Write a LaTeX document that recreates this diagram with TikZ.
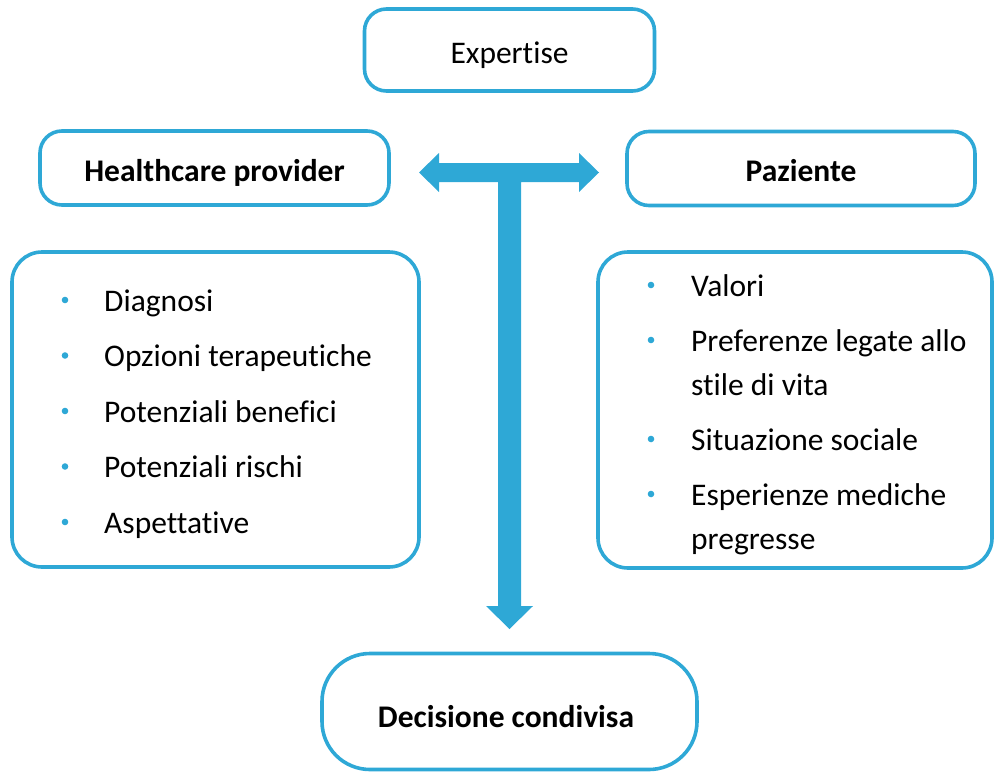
\documentclass[tikz,border=0pt]{standalone}
\usepackage{fontspec}
\setmainfont{Carlito}[Ligatures=NoCommon]
\definecolor{cblue}{HTML}{2EA8D6}
\begin{document}
\begin{tikzpicture}[x=1pt,y=-1pt,
  box/.style={draw=cblue, line width=3.6pt, rounded corners=22pt, inner sep=0pt},
  bigbox/.style={box, rounded corners=30pt},
  txt/.style={font=\fontsize{31.5}{44}\selectfont, inner sep=0pt, anchor=base},
  btxt/.style={txt, font=\fontsize{31.5}{44}\selectfont\bfseries},
  itm/.style={txt, anchor=base west, align=left},
  dot/.style={fill=cblue, draw=none}]
\useasboundingbox (0,0) rectangle (995,771);
% boxes
\node[box, minimum width=290, minimum height=82] (expbox) at (509.5,50) {};
\node[box, minimum width=349, minimum height=74] (hpbox) at (214.5,168) {};
\node[box, minimum width=348, minimum height=74] (pzbox) at (801,168.5) {};
\node[bigbox, minimum width=407, minimum height=315] (lbox) at (215.5,409.5) {};
\node[bigbox, minimum width=394, minimum height=316] (rbox) at (795,410) {};
\node[box, rounded corners=48pt, minimum width=375, minimum height=116] (dbox) at (509.5,711.5) {};
% titles
\node[txt] (exp) at (509.5,63) {Expertise};
\node[btxt] (hp) at (214.5,181) {Healthcare provider};
\node[btxt] (pz) at (801,181) {Paziente};
\node[btxt] (dec) at (506,727) {Decisione condivisa};
% left list
\node[itm] (l1) at (104,311) {Diagnosi};
\node[itm] (l2) at (104,366.5) {Opzioni terapeutiche};
\node[itm] (l3) at (104,422) {Potenziali benefici};
\node[itm] (l4) at (104,477.5) {Potenziali rischi};
\node[itm] (l5) at (104,533) {Aspettative};
\foreach \y in {300,355.5,411,466.5,522} \fill[dot] (65,\y) circle (3.3);
% right list
\node[itm] (r1) at (691,296) {Valori};
\node[itm] (r2) at (691,395) {Preferenze legate allo\\stile di vita};
\node[itm] (r3) at (691,450) {Situazione sociale};
\node[itm] (r4) at (691,549) {Esperienze mediche\\pregresse};
\foreach \y in {285,340,439,494} \fill[dot] (651,\y) circle (3.3);
% T arrow
\fill[cblue] (419,172.5) -- (439,153) -- (439,163) -- (579,163) -- (579,153) -- (599,172.5)
  -- (579,192) -- (579,182) -- (521,182) -- (521,606) -- (533,606) -- (509.5,629)
  -- (486,606) -- (498,606) -- (498,182) -- (439,182) -- (439,192) -- cycle;
\end{tikzpicture}
\end{document}
